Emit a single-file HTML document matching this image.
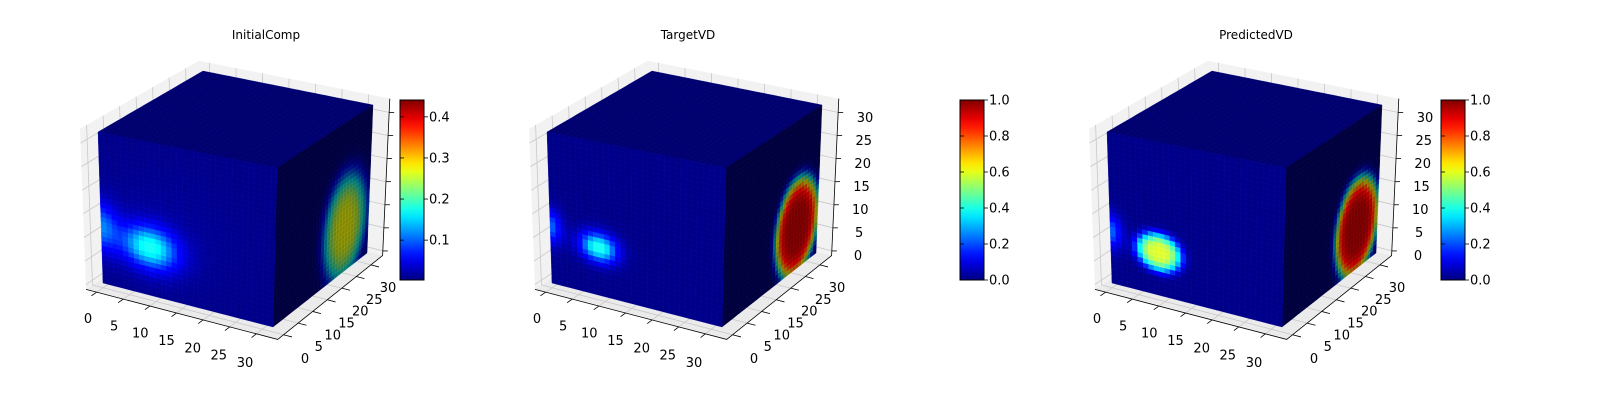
<!DOCTYPE html>
<html><head><meta charset="utf-8">
<style>
html,body{margin:0;padding:0;background:#fff;}
svg{display:block;font-family:"DejaVu Sans","Liberation Sans",sans-serif;}
</style></head>
<body>
<svg id="chart" width="1600" height="400" viewBox="0 0 1600 400" xmlns="http://www.w3.org/2000/svg"></svg>
<script>
// ---- data ----
const panelTitles = ["InitialComp", "TargetVD", "PredictedVD"];
const vmins = [0.003, 0.0, 0.0];
const vmaxs = [0.441, 1.0, 1.0];
const cbarTicks1 = [0.1, 0.2, 0.3, 0.4];
const cbarTicks2 = [0.0, 0.2, 0.4, 0.6, 0.8, 1.0];
const axisTicks = [0, 5, 10, 15, 20, 25, 30];
const bgValues = [0.003, 0.0, 0.0];
// blobs: [panel, u-center, w-center, sigma-u, sigma-w, peak, power]
const frontBlobs = [
  [0, 9, 10, 3.5, 3, 0.17, 1],
  [0, 0, 12, 2.2, 3.5, 0.10, 1],
  [0, 11, 14, 9, 8, 0.008, 1],
  [1, 9, 10, 2.3, 2.0, 0.42, 1],
  [1, 0, 12, 1.5, 2.5, 0.22, 1],
  [2, 9, 9, 3.0, 2.8, 0.58, 2],
  [2, 0, 11, 1.5, 2.5, 0.22, 1]
];
const rightBlobs = [
  [0, 24, 9.5, 5.2, 8, 0.27, 2],
  [1, 25, 9, 5.2, 7.5, 1.0, 3],
  [2, 25, 9, 5.2, 7.5, 1.0, 3]
];
const topBlobs = [];

// ---- geometry ----
const panelDx = [0, 449, 1009];
const N = 32;
const C = {
  "000":[103,283],"100":[273,327],"010":[207,212],"110":[367,253],
  "001":[98,132],"101":[277,168],"011":[203,71],"111":[373,105]
};
function proj(x,y,z,dx){
  const a=x/N,b=y/N,c=z/N;
  let px=0,py=0;
  for(const i of [0,1])for(const j of [0,1])for(const k of [0,1]){
    const w=(i?a:1-a)*(j?b:1-b)*(k?c:1-c);
    const p=C[""+i+j+k]; px+=w*p[0]; py+=w*p[1];
  }
  return [px+dx,py];
}
function jet(t){
  t=Math.max(0,Math.min(1,t));
  const f=(v)=>Math.max(0,Math.min(1,v));
  const r=f(Math.min(4*t-1.5,-4*t+4.5));
  const g=f(Math.min(4*t-0.5,-4*t+3.5));
  const b=f(Math.min(4*t+0.5,-4*t+2.5));
  return [r*255,g*255,b*255];
}
function rgb(c,s){return "rgb("+Math.round(Math.min(255,c[0]*s))+","+Math.round(Math.min(255,c[1]*s))+","+Math.round(Math.min(255,c[2]*s))+")";}
function val(blobs,p,u,w){
  let v=bgValues[p];
  for(const b of blobs){ if(b[0]!==p) continue;
    const r2=((u-b[1])**2)/(2*b[3]*b[3])+((w-b[2])**2)/(2*b[4]*b[4]);
    v+=b[5]*Math.exp(-Math.pow(r2,b[6]));
  }
  return v;
}
const svg=document.getElementById("chart");
const NS="http://www.w3.org/2000/svg";
function el(tag,attrs,parent){const e=document.createElementNS(NS,tag);for(const k in attrs)e.setAttribute(k,attrs[k]);(parent||svg).appendChild(e);return e;}
function pts(a){return a.map(p=>p[0].toFixed(1)+","+p[1].toFixed(1)).join(" ");}

const LO=-2, HI=34, ZLO=-1, ZHI=33;
for(let p=0;p<3;p++){
  const dx=panelDx[p];
  const g=el("g",{});
  
  
  const P=(x,y,z)=>proj(x,y,z,dx);
  const panes=el("g",{},g);
  
  
  el("polygon",{points:pts([P(LO,LO,ZLO),P(HI,LO,ZLO),P(HI,HI,ZLO),P(LO,HI,ZLO)]),fill:"#ebebeb",stroke:"none"},panes);
  el("polygon",{points:pts([P(LO,LO,ZLO),P(LO,HI,ZLO),P(LO,HI,ZHI),P(LO,LO,ZHI)]),fill:"#f2f2f2",stroke:"none"},panes);
  el("polygon",{points:pts([P(LO,HI,ZLO),P(HI,HI,ZLO),P(HI,HI,ZHI),P(LO,HI,ZHI)]),fill:"#f2f2f2",stroke:"none"},panes);
  for(const t of axisTicks){
    const st={stroke:"#c8c8c8","stroke-width":"0.8",fill:"none"};
    el("polyline",Object.assign({points:pts([P(t,LO,ZLO),P(t,HI,ZLO),P(t,HI,ZHI)])},st),panes);
    el("polyline",Object.assign({points:pts([P(HI,t,ZLO),P(LO,t,ZLO),P(LO,t,ZHI)])},st),panes);
    el("polyline",Object.assign({points:pts([P(LO,LO,t),P(LO,HI,t),P(HI,HI,t)])},st),panes);
  }
  const ax=el("g",{stroke:"#000","stroke-width":"0.8",fill:"none"},g);
  
  
  el("polyline",{points:pts([P(LO,LO,ZLO),P(HI,LO,ZLO),P(HI,HI,ZLO),P(HI,HI,ZHI)])},ax);
  for(const t of axisTicks){
    el("line",{x1:P(t,LO,ZLO)[0],y1:P(t,LO,ZLO)[1],x2:P(t,LO-1.6,ZLO)[0],y2:P(t,LO-1.6,ZLO)[1]},ax);
    el("line",{x1:P(HI,t,ZLO)[0],y1:P(HI,t,ZLO)[1],x2:P(HI+1.6,t,ZLO)[0],y2:P(HI+1.6,t,ZLO)[1]},ax);
    const zp=P(HI,HI,t);
    el("line",{x1:zp[0],y1:zp[1],x2:zp[0]+5,y2:zp[1]},ax);
  }
  const cube=el("g",{},g);
  
  
  const vmin=vmins[p],vmax=vmaxs[p];
  const nrm=v=>(v-vmin)/(vmax-vmin);
  for(let i=0;i<N;i++)for(let j=0;j<N;j++){
    const t=nrm(val(topBlobs,p,i+0.5,j+0.5));
    el("polygon",{points:pts([P(i,j,N),P(i+1,j,N),P(i+1,j+1,N),P(i,j+1,N)]),fill:rgb(jet(t),0.84),stroke:rgb(jet(t),0.98),"stroke-width":"0.4"},cube);
  }
  for(let j=0;j<N;j++)for(let k=0;k<N;k++){
    const t=nrm(val(rightBlobs,p,j+0.5,k+0.5));
    const tc=Math.min(1,Math.max(0,t));
    const s=0.47+0.42*Math.pow(tc,4);
    el("polygon",{points:pts([P(N,j,k),P(N,j+1,k),P(N,j+1,k+1),P(N,j,k+1)]),fill:rgb(jet(t),s),stroke:rgb(jet(t),s*1.2),"stroke-width":"0.4"},cube);
  }
  for(let i=0;i<N;i++)for(let k=0;k<N;k++){
    const t=nrm(val(frontBlobs,p,i+0.5,k+0.5));
    el("polygon",{points:pts([P(i,0,k),P(i+1,0,k),P(i+1,0,k+1),P(i,0,k+1)]),fill:rgb(jet(t),1.05),stroke:rgb(jet(t),1.22),"stroke-width":"0.4"},cube);
  }
  const lab=el("g",{"font-size":"13",fill:"#000","text-anchor":"middle"},g);
  
  
  for(const t of axisTicks){
    const a=t/30;
    const tx=el("text",{x:(88+157*a+dx).toFixed(1),y:(323+44*a).toFixed(1)},lab); tx.textContent=t;
    
    
    const ty=el("text",{x:(305+83*a+dx).toFixed(1),y:(363-71*a).toFixed(1)},lab); ty.textContent=t;
    
    
    if(p>0){
      const tz=el("text",{x:(409+7*a+dx).toFixed(1),y:(260-138*a).toFixed(1)},lab); tz.textContent=t;
      
      
    }
  }
  const title=el("text",{x:[266,688,1256][p],y:39,"font-size":"12","text-anchor":"middle",fill:"#000"},g);
  title.textContent=panelTitles[p];
  
  
}
const defs=el("defs",{});
const grad=el("linearGradient",{id:"jetg",x1:"0",y1:"1",x2:"0",y2:"0"},defs);
for(let s=0;s<=20;s++){const c=jet(s/20);el("stop",{offset:(s/20).toFixed(2),"stop-color":rgb(c,1)},grad);}
const cbx=[400,960,1441];
for(let p=0;p<3;p++){
  const g=el("g",{});
  
  
  const x=cbx[p],top=100,bot=280;
  el("rect",{x:x,y:top,width:24,height:bot-top,fill:"url(#jetg)",stroke:"#000","stroke-width":"1"},g);
  const ticks=p===0?cbarTicks1:cbarTicks2;
  for(const t of ticks){
    const y=bot-(t-vmins[p])/(vmaxs[p]-vmins[p])*(bot-top);
    el("line",{x1:x+24,y1:y,x2:x+28,y2:y,stroke:"#000","stroke-width":"0.8"},g);
    el("line",{x1:x,y1:y,x2:x+4,y2:y,stroke:"#000","stroke-width":"0.8"},g);
    const tx=el("text",{x:x+29,y:(y+4.5).toFixed(1),"font-size":"13",fill:"#000"},g);
    tx.textContent=t.toFixed(1);
    
    
  }
}
</script>
</body></html>
